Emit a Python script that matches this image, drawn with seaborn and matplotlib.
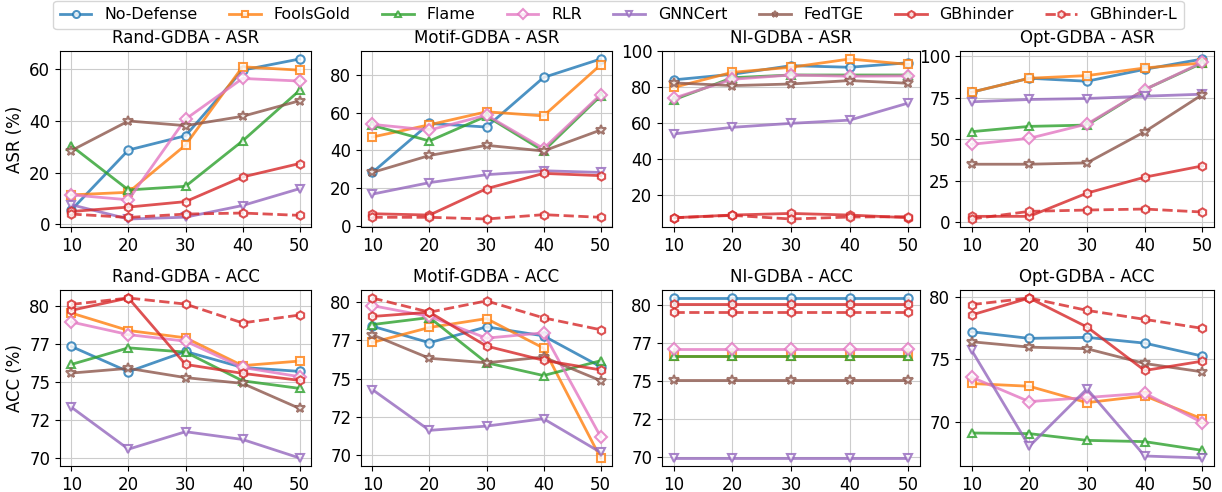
import numpy as np
import pandas as pd

import matplotlib
matplotlib.use('Agg')
import matplotlib.pyplot as plt
from matplotlib.lines import Line2D
from matplotlib.ticker import MaxNLocator, FormatStrFormatter
import seaborn as sns


# 데이터
x_vals = [10, 20, 30, 40, 50]
methods = ['No-Defense', 'FoolsGold', 'Flame', 'RLR', 'GNNCert', 'FedTGE', 'GBhinder', 'GBhinder-L']
colors = ['tab:blue', 'tab:orange', 'tab:green', 'tab:pink', 'tab:purple', 'tab:brown', 'tab:red', 'tab:red']
markers = ['o', 's', '^', 'D', 'v', '*', 'h', 'h']
styles = ['-', '-', '-', '-', '-', '-', '-', '--']

titles = ['Rand-GDBA - ASR', 'Motif-GDBA - ASR', 'NI-GDBA - ASR', 'Opt-GDBA - ASR',
          'Rand-GDBA - ACC', 'Motif-GDBA - ACC', 'NI-GDBA - ACC', 'Opt-GDBA - ACC']

rand_asr = [
    [5.6, 28.7, 34.2, 59.5, 63.8],
    [11.4, 12.4, 30.6, 60.8, 59.5],
    [30.3, 13.3, 14.7, 32.2, 51.7],
    [11.4, 9.5, 40.6, 56.3, 55.3],
    [7.6, 2.1, 2.8, 7.3, 13.8],
    [28.5, 39.9, 38.1, 41.7, 47.7],
    [5.0, 6.7, 8.8, 18.3, 23.5],
    [4.0, 2.7, 4.0, 4.4, 3.5],
]
motif_asr = [
    [28.2, 54.2, 52.3, 78.6, 88.4],
    [47.0, 53.5, 60.4, 58.2, 85.3],
    [53.2, 44.9, 58.1, 39.6, 68.8],
    [53.7, 50.7, 58.6, 40.9, 69.5],
    [16.7, 22.8, 27.0, 29.1, 28.2],
    [28.2, 37.2, 42.6, 39.6, 50.7],
    [6.3, 5.6, 19.6, 27.7, 26.5],
    [4.4, 4.4, 3.5, 5.8, 4.4],
]
ni_asr = [
    [84.2, 87.3, 92.1, 91.2, 93.7],
    [80.0, 88.4, 91.2, 95.8, 92.8],
    [73.1, 85.4, 86.9, 86.9, 86.9],
    [74.0, 84.5, 86.9, 86.2, 86.4],
    [54.1, 57.8, 60.0, 61.8, 71.3],
    [82.5, 81.0, 81.9, 83.8, 82.3],
    [7.5, 9.0, 9.9, 9.0, 7.5],
    [7.5, 8.8, 6.8, 7.9, 8.1],
]
opt_asr = [
    [78.4, 86.8, 85.0, 92.2, 98.4],
    [78.4, 86.8, 88.4, 93.0, 96.0],
    [54.6, 57.8, 58.6, 80.0, 96.0],
    [47.0, 50.6, 59.2, 80.0, 96.4],
    [72.6, 74.0, 74.6, 76.0, 77.2],
    [35.0, 35.0, 35.8, 54.6, 77.0],
    [3.6, 3.6, 17.6, 27.2, 34.0],
    [2.0, 6.6, 7.4, 8.0, 6.2],
]
rand_acc = [
    [77.36, 75.70, 77.03, 75.98, 75.72],
    [79.56, 78.41, 77.93, 76.10, 76.40],
    [76.18, 77.27, 76.99, 75.10, 74.60],
    [78.97, 78.14, 77.71, 75.98, 75.37],
    [73.36, 70.60, 71.75, 71.24, 70.02],
    [75.61, 75.92, 75.31, 74.93, 73.28],
    [79.74, 80.55, 76.18, 75.59, 75.13],
    [80.13, 80.55, 80.15, 78.91, 79.43],
]
motif_acc = [
    [78.43, 77.35, 78.39, 77.80, 75.78],
    [77.37, 78.35, 78.93, 77.00, 69.80],
    [78.54, 79.00, 76.04, 75.20, 76.17],
    [79.78, 79.07, 77.65, 78.00, 71.20],
    [74.28, 71.61, 71.89, 72.37, 70.17],
    [77.87, 76.33, 76.04, 76.41, 74.87],
    [79.07, 79.35, 77.13, 76.20, 75.57],
    [80.28, 79.35, 80.09, 78.98, 78.20],
]
ni_acc = [
    [80.48] * 5,
    [76.66] * 5,
    [76.64] * 5,
    [77.14] * 5,
    [69.91] * 5,
    [75.07] * 5,
    [80.11] * 5,
    [79.54] * 5,
]
opt_acc = [
    [77.19, 76.66, 76.74, 76.28, 75.24],
    [73.05, 72.83, 71.52, 72.06, 70.21],
    [69.09, 69.04, 68.50, 68.40, 67.70],
    [73.56, 71.60, 71.93, 72.27, 69.92],
    [75.72, 68.02, 72.62, 67.25, 67.09],
    [76.39, 75.96, 75.83, 74.65, 73.98],
    [78.53, 79.89, 77.57, 74.09, 74.84],
    [79.36, 79.89, 78.90, 78.18, 77.46],
]

panels = [rand_asr, motif_asr, ni_asr, opt_asr, rand_acc, motif_acc, ni_acc, opt_acc]

plt.rcParams['font.family'] = ['DejaVu Sans']

W, H = 1222, 492
fig, axs = plt.subplots(2, 4, figsize=(W / 100, H / 100), dpi=100)
axs = axs.flatten()

# 패널 위치 (픽셀 기준)
col_px = [(60, 311), (361, 612), (662, 920), (960, 1214)]
row_px = [(51, 227), (290, 466)]

for i, ax in enumerate(axs):
    l, r = col_px[i % 4]
    t, b = row_px[i // 4]
    ax.set_position([l / W, 1 - b / H, (r - l) / W, (b - t) / H])

    for j, name in enumerate(methods):
        sns.lineplot(x=x_vals, y=panels[i][j], ax=ax,
                     color=colors[j], marker=markers[j], linestyle=styles[j],
                     markersize=6 if markers[j] != '*' else 7.5,
                     markerfacecolor='white', markeredgecolor=colors[j],
                     markeredgewidth=1.5, linewidth=2, alpha=0.8, legend=False)

    ax.set_title(titles[i], fontsize=12)
    ax.set_xticks(x_vals)
    ax.yaxis.set_major_locator(MaxNLocator(5, steps=[1, 2, 2.5, 5, 10]))
    ax.yaxis.set_major_formatter(FormatStrFormatter('%d'))
    ax.tick_params(labelsize=12)
    ax.grid(True, color='#cccccc', linewidth=0.8)
    ax.set_xlabel('')

axs[0].set_ylabel('ASR (%)', fontsize=12)
axs[4].set_ylabel('ACC (%)', fontsize=12)

# 범례
handles = [Line2D([0], [0], color=colors[j], marker=markers[j], linestyle=styles[j],
                  markersize=5, markerfacecolor='white', markeredgecolor=colors[j],
                  markeredgewidth=1.5, linewidth=2, alpha=0.8)
           for j in range(len(methods))]
fig.legend(handles, methods, loc='upper center', ncol=8, fontsize=11.4,
           bbox_to_anchor=(618.5 / W, 1 - 1 / H), borderaxespad=0)

plt.savefig('out.png', dpi=100)
